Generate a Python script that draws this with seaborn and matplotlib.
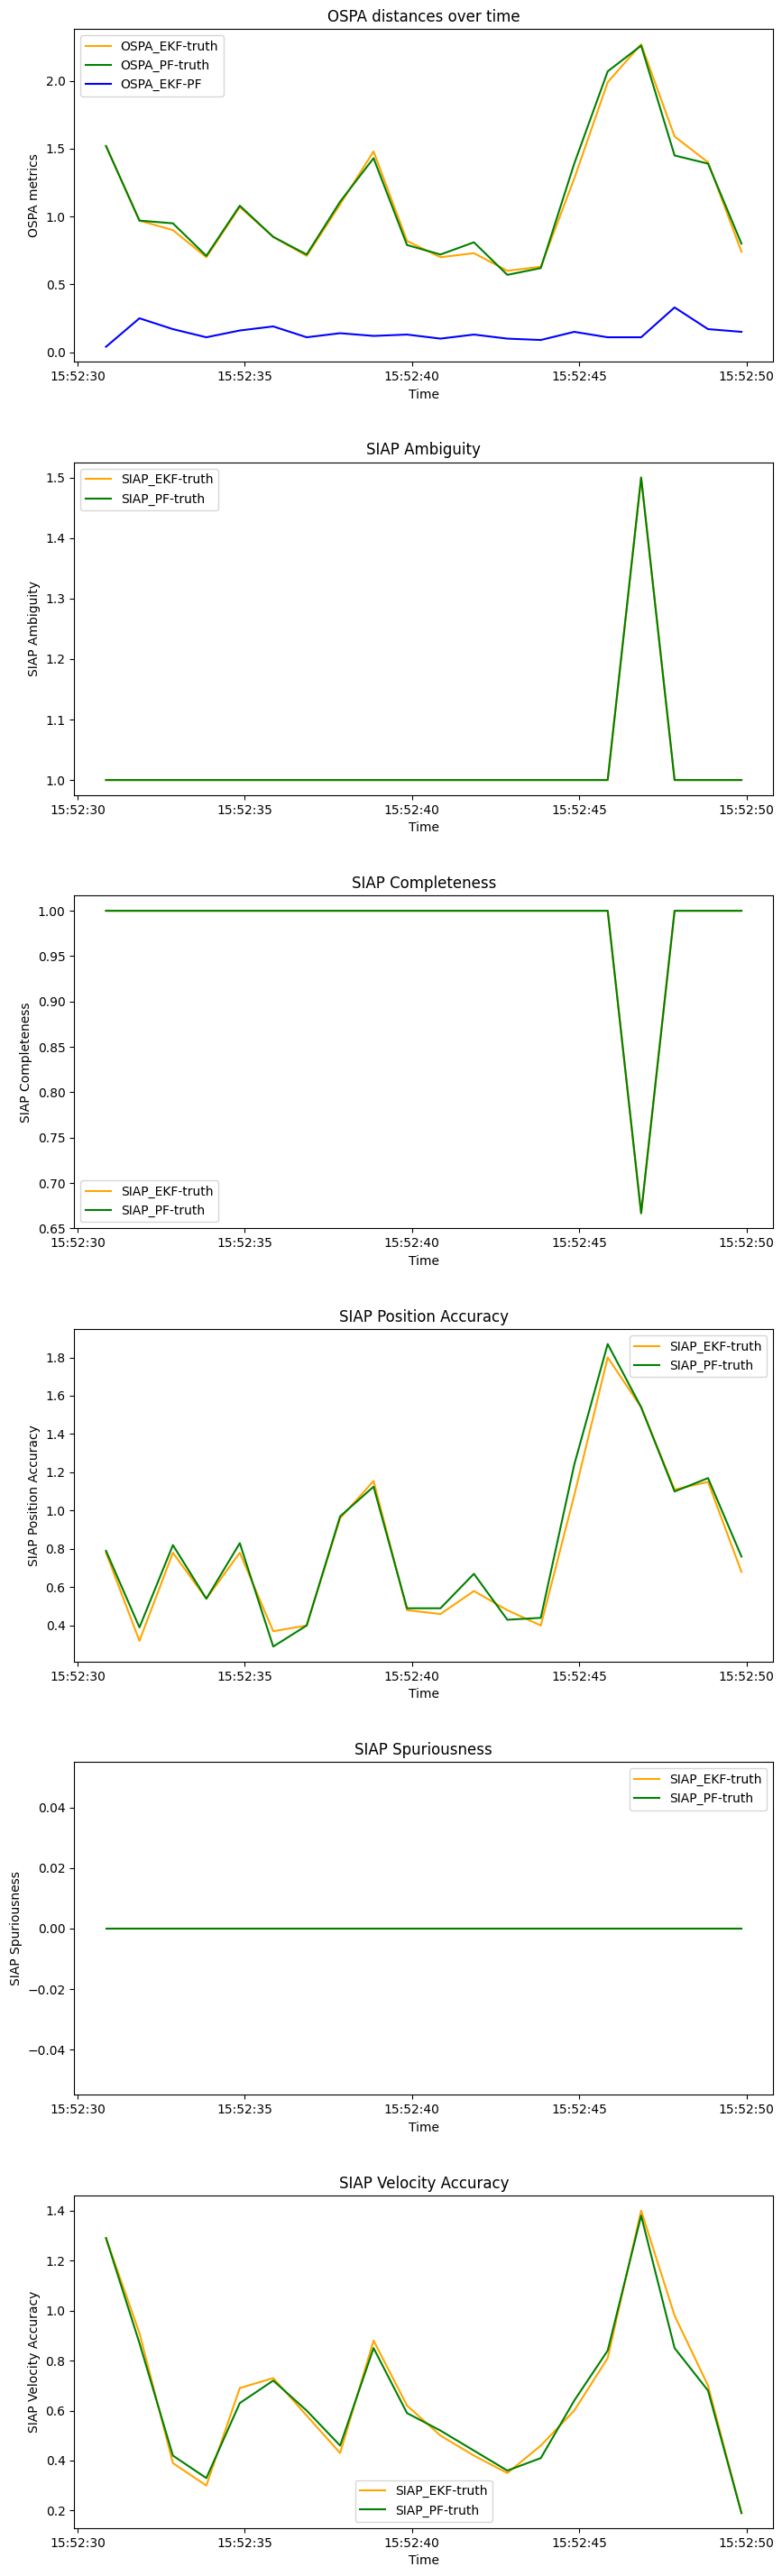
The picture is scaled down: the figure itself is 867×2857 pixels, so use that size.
import pandas as pd
import matplotlib
matplotlib.use('Agg')
import matplotlib.pyplot as plt
import matplotlib.dates as mdates
import seaborn as sns

# ------------------------------------------------------------------
# data
# ------------------------------------------------------------------
time_labels = ['15:52:30.85', '15:52:31.85', '15:52:32.85', '15:52:33.85', '15:52:34.85',
               '15:52:35.85', '15:52:36.85', '15:52:37.85', '15:52:38.85', '15:52:39.85',
               '15:52:40.85', '15:52:41.85', '15:52:42.85', '15:52:43.85', '15:52:44.85',
               '15:52:45.85', '15:52:46.85', '15:52:47.85', '15:52:48.85', '15:52:49.85']

ospa_ekf_truth = [1.52, 0.97, 0.90, 0.70, 1.07, 0.85, 0.71, 1.09, 1.48, 0.82,
                  0.70, 0.73, 0.60, 0.63, 1.28, 1.99, 2.27, 1.59, 1.40, 0.74]
ospa_pf_truth = [1.52, 0.97, 0.95, 0.71, 1.08, 0.85, 0.72, 1.11, 1.43, 0.79,
                 0.72, 0.81, 0.57, 0.62, 1.39, 2.07, 2.26, 1.45, 1.39, 0.80]
ospa_ekf_pf = [0.04, 0.25, 0.17, 0.11, 0.16, 0.19, 0.11, 0.14, 0.12, 0.13,
               0.10, 0.13, 0.10, 0.09, 0.15, 0.11, 0.11, 0.33, 0.17, 0.15]

amb_ekf = [1.0, 1.0, 1.0, 1.0, 1.0, 1.0, 1.0, 1.0, 1.0, 1.0,
           1.0, 1.0, 1.0, 1.0, 1.0, 1.0, 1.5, 1.0, 1.0, 1.0]
amb_pf = [1.0, 1.0, 1.0, 1.0, 1.0, 1.0, 1.0, 1.0, 1.0, 1.0,
          1.0, 1.0, 1.0, 1.0, 1.0, 1.0, 1.5, 1.0, 1.0, 1.0]

comp_ekf = [1.0, 1.0, 1.0, 1.0, 1.0, 1.0, 1.0, 1.0, 1.0, 1.0,
            1.0, 1.0, 1.0, 1.0, 1.0, 1.0, 0.6666666666666666, 1.0, 1.0, 1.0]
comp_pf = [1.0, 1.0, 1.0, 1.0, 1.0, 1.0, 1.0, 1.0, 1.0, 1.0,
           1.0, 1.0, 1.0, 1.0, 1.0, 1.0, 0.6666666666666666, 1.0, 1.0, 1.0]

pos_ekf = [0.78, 0.32, 0.78, 0.54, 0.78, 0.37, 0.40, 0.96, 1.155, 0.48,
           0.46, 0.58, 0.48, 0.40, 1.08, 1.80, 1.54, 1.11, 1.15, 0.68]
pos_pf = [0.79, 0.39, 0.82, 0.54, 0.83, 0.29, 0.40, 0.97, 1.125, 0.49,
          0.49, 0.67, 0.43, 0.44, 1.24, 1.87, 1.54, 1.10, 1.17, 0.76]

spur_ekf = [0.0] * 20
spur_pf = [0.0] * 20

vel_ekf = [1.29, 0.91, 0.39, 0.30, 0.69, 0.73, 0.58, 0.43, 0.88, 0.62,
           0.50, 0.42, 0.35, 0.46, 0.60, 0.81, 1.40, 0.98, 0.70, 0.19]
vel_pf = [1.29, 0.87, 0.42, 0.33, 0.63, 0.72, 0.60, 0.46, 0.85, 0.59,
          0.52, 0.44, 0.36, 0.41, 0.64, 0.84, 1.38, 0.85, 0.68, 0.19]

times = pd.to_datetime(['2024-01-01 ' + t for t in time_labels])

# ------------------------------------------------------------------
# figure
# ------------------------------------------------------------------
fig, axes = plt.subplots(6, 1, figsize=(8.67, 28.57), dpi=100)
fig.subplots_adjust(left=82.3 / 867, right=857.3 / 867,
                    top=1 - 32.3 / 2857, bottom=1 - 2804 / 2857, hspace=0.302)

panels = [
    ('OSPA distances over time', 'OSPA metrics',
     [(ospa_ekf_truth, 'OSPA_EKF-truth', 'orange'),
      (ospa_pf_truth, 'OSPA_PF-truth', 'green'),
      (ospa_ekf_pf, 'OSPA_EKF-PF', 'blue')], 'upper left'),
    ('SIAP Ambiguity', 'SIAP Ambiguity',
     [(amb_ekf, 'SIAP_EKF-truth', 'orange'),
      (amb_pf, 'SIAP_PF-truth', 'green')], 'upper left'),
    ('SIAP Completeness', 'SIAP Completeness',
     [(comp_ekf, 'SIAP_EKF-truth', 'orange'),
      (comp_pf, 'SIAP_PF-truth', 'green')], 'lower left'),
    ('SIAP Position Accuracy', 'SIAP Position Accuracy',
     [(pos_ekf, 'SIAP_EKF-truth', 'orange'),
      (pos_pf, 'SIAP_PF-truth', 'green')], 'upper right'),
    ('SIAP Spuriousness', 'SIAP Spuriousness',
     [(spur_ekf, 'SIAP_EKF-truth', 'orange'),
      (spur_pf, 'SIAP_PF-truth', 'green')], 'upper right'),
    ('SIAP Velocity Accuracy', 'SIAP Velocity Accuracy',
     [(vel_ekf, 'SIAP_EKF-truth', 'orange'),
      (vel_pf, 'SIAP_PF-truth', 'green')], 'lower center'),
]

for ax, (title, ylabel, series, loc) in zip(axes, panels):
    for values, label, color in series:
        sns.lineplot(x=times, y=values, color=color, label=label, ax=ax, linewidth=1.5)
    ax.set_title(title, fontsize=12)
    ax.set_xlabel('Time')
    ax.set_ylabel(ylabel)
    ax.xaxis.set_major_locator(mdates.SecondLocator(bysecond=range(0, 60, 5)))
    ax.xaxis.set_major_formatter(mdates.DateFormatter('%H:%M:%S'))
    ax.legend(loc=loc)

plt.savefig('out.png', dpi=100)
plt.close()
